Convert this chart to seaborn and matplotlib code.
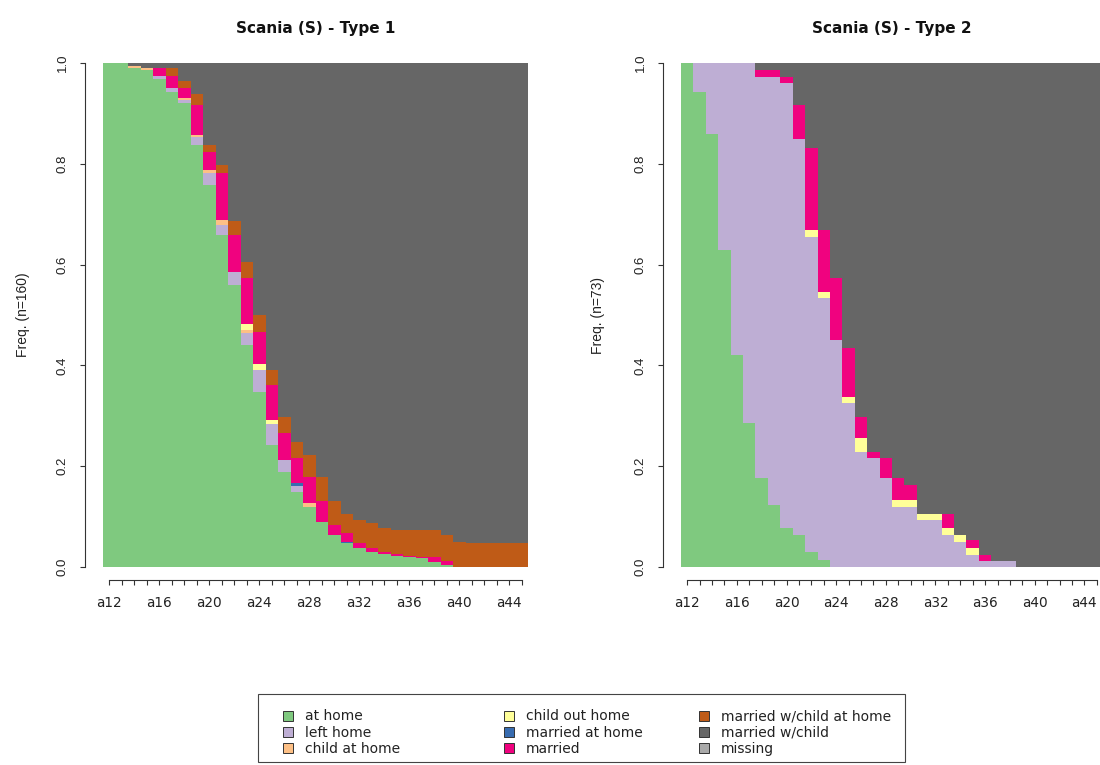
import numpy as np
import pandas as pd
import matplotlib
matplotlib.use("Agg")
import matplotlib.pyplot as plt
from matplotlib.patches import Patch, Rectangle
import seaborn as sns

# ---------------- data ----------------
ages = ["a12", "a13", "a14", "a15", "a16", "a17", "a18", "a19", "a20", "a21",
        "a22", "a23", "a24", "a25", "a26", "a27", "a28", "a29", "a30", "a31",
        "a32", "a33", "a34", "a35", "a36", "a37", "a38", "a39", "a40", "a41",
        "a42", "a43", "a44", "a45"]

states = ["at home", "left home", "child at home", "child out home",
          "married at home", "married", "married w/child at home",
          "married w/child", "missing"]
colors = ["#7FC97F", "#BEAED4", "#FDC086", "#FFFF99", "#386CB0",
          "#F0027F", "#BF5B17", "#666666", "#A9A9A9"]

# Type 1 (n=160) state distribution per age
t1_at_home = [1.0, 1.0, 0.99, 0.986, 0.968, 0.943, 0.92, 0.837, 0.758, 0.659,
              0.56, 0.44, 0.348, 0.242, 0.189, 0.149, 0.12, 0.09, 0.063, 0.047,
              0.037, 0.03, 0.025, 0.022, 0.02, 0.018, 0.01, 0.003, 0, 0,
              0, 0, 0, 0]
t1_left_home = [0, 0, 0, 0, 0.007, 0.007, 0.007, 0.017, 0.023, 0.02,
                0.026, 0.024, 0.043, 0.041, 0.023, 0.011, 0, 0, 0, 0,
                0, 0, 0, 0, 0, 0, 0, 0, 0, 0, 0, 0, 0, 0]
t1_child_home = [0, 0, 0.005, 0.005, 0, 0, 0.004, 0.003, 0.007, 0.009,
                 0, 0.006, 0, 0, 0, 0, 0.006, 0, 0, 0,
                 0, 0, 0, 0, 0, 0, 0, 0, 0, 0, 0, 0, 0, 0]
t1_child_out = [0, 0, 0, 0, 0, 0, 0, 0, 0, 0,
                0, 0.013, 0.011, 0.009, 0, 0, 0, 0, 0, 0,
                0, 0, 0, 0, 0, 0, 0, 0, 0, 0, 0, 0, 0, 0]
t1_married_home = [0, 0, 0, 0, 0, 0, 0, 0, 0, 0,
                   0, 0, 0, 0, 0, 0.006, 0, 0, 0, 0.003,
                   0, 0, 0, 0, 0, 0, 0, 0, 0, 0, 0, 0, 0, 0]
t1_married = [0, 0, 0, 0, 0.016, 0.025, 0.019, 0.06, 0.036, 0.093,
              0.073, 0.09, 0.065, 0.069, 0.053, 0.05, 0.053, 0.04, 0.02, 0.017,
              0.01, 0.007, 0.005, 0.003, 0.002, 0.002, 0.01, 0.009, 0, 0,
              0, 0, 0, 0]
t1_mwc_home = [0, 0, 0, 0, 0, 0.015, 0.014, 0.021, 0.013, 0.017,
               0.028, 0.033, 0.033, 0.03, 0.033, 0.033, 0.043, 0.049, 0.047, 0.039,
               0.046, 0.05, 0.047, 0.048, 0.051, 0.053, 0.053, 0.051, 0.05, 0.047,
               0.047, 0.047, 0.047, 0.047]
t1_mwc = [0, 0, 0.005, 0.009, 0.009, 0.01, 0.036, 0.062, 0.163, 0.202,
          0.313, 0.394, 0.5, 0.609, 0.702, 0.751, 0.778, 0.821, 0.87, 0.894,
          0.907, 0.913, 0.923, 0.927, 0.927, 0.927, 0.927, 0.937, 0.95, 0.953,
          0.953, 0.953, 0.953, 0.953]
t1_missing = [0] * 34

# Type 2 (n=73) state distribution per age
t2_at_home = [1.0, 0.943, 0.86, 0.629, 0.42, 0.285, 0.176, 0.123, 0.077, 0.063,
              0.03, 0.014, 0, 0, 0, 0, 0, 0, 0, 0,
              0, 0, 0, 0, 0, 0, 0, 0, 0, 0, 0, 0, 0, 0]
t2_left_home = [0, 0.057, 0.14, 0.371, 0.58, 0.715, 0.797, 0.85, 0.883, 0.787,
                0.625, 0.519, 0.45, 0.325, 0.229, 0.216, 0.176, 0.12, 0.12, 0.093,
                0.093, 0.063, 0.05, 0.024, 0.011, 0.011, 0.011, 0, 0, 0,
                0, 0, 0, 0]
t2_child_home = [0] * 34
t2_child_out = [0, 0, 0, 0, 0, 0, 0, 0, 0, 0,
                0.014, 0.013, 0, 0.013, 0.026, 0, 0, 0.013, 0.013, 0.013,
                0.013, 0.014, 0.013, 0.013, 0, 0, 0, 0, 0, 0, 0, 0, 0, 0]
t2_married_home = [0] * 34
t2_married = [0, 0, 0, 0, 0, 0, 0.013, 0.013, 0.013, 0.067,
              0.162, 0.123, 0.123, 0.096, 0.043, 0.013, 0.04, 0.043, 0.03, 0,
              0, 0.029, 0, 0.017, 0.013, 0, 0, 0, 0, 0, 0, 0, 0, 0]
t2_mwc_home = [0] * 34
t2_mwc = [0, 0, 0, 0, 0, 0, 0.014, 0.014, 0.027, 0.083,
          0.169, 0.331, 0.427, 0.566, 0.702, 0.771, 0.784, 0.824, 0.837, 0.894,
          0.894, 0.894, 0.937, 0.946, 0.976, 0.989, 0.989, 1.0, 1.0, 1.0,
          1.0, 1.0, 1.0, 1.0]
t2_missing = [0] * 34

titles = ["Scania (S) - Type 1", "Scania (S) - Type 2"]
ylabels = ["Freq. (n=160)", "Freq. (n=73)"]
yticks = [0, 0.2, 0.4, 0.6, 0.8, 1.0]
ytick_labels = ["0.0", "0.2", "0.4", "0.6", "0.8", "1.0"]

type1 = [t1_at_home, t1_left_home, t1_child_home, t1_child_out, t1_married_home,
         t1_married, t1_mwc_home, t1_mwc, t1_missing]
type2 = [t2_at_home, t2_left_home, t2_child_home, t2_child_out, t2_married_home,
         t2_married, t2_mwc_home, t2_mwc, t2_missing]


def long_frame(series):
    rows = []
    for st, vals in zip(states, series):
        for i, v in enumerate(vals):
            rows.append({"pos": i, "state": st, "freq": v})
    df = pd.DataFrame(rows)
    df["state"] = pd.Categorical(df["state"], categories=states, ordered=True)
    return df


# ---------------- plot ----------------
sns.set_theme(style="white")
plt.rcParams["font.family"] = ["DejaVu Sans"]
ROT_FONT = "Liberation Sans"

W, H = 1100, 765
PT = 72 / 100  # points per pixel
fig = plt.figure(figsize=(W / 100, H / 100), dpi=100)
ax1 = fig.add_axes([103 / W, 1 - 567 / H, 425 / W, 504 / H])
ax2 = fig.add_axes([681 / W, 1 - 567 / H, 422 / W, 504 / H])

axis_col = "#333333"
txt_col = "#222222"
label_x = [-0.172, -0.18]
for ax, data, title, ylab, lx in zip([ax1, ax2], [type1, type2], titles,
                                     ylabels, label_x):
    df = long_frame(data)
    sns.histplot(data=df, x="pos", weights="freq", hue="state",
                 hue_order=states[::-1], palette=colors[::-1],
                 multiple="stack", discrete=True, shrink=1,
                 linewidth=0, alpha=1, legend=False, ax=ax)
    ax.set_xlim(-0.5, len(ages) - 0.5)
    ax.set_ylim(0, 1)
    for s in ["top", "right"]:
        ax.spines[s].set_visible(False)
    ax.spines["left"].set_position(("outward", 18 * PT))
    ax.spines["bottom"].set_position(("outward", 13 * PT))
    ax.spines["left"].set_bounds(0, 1)
    ax.spines["bottom"].set_bounds(0, len(ages) - 1)
    for s in ["left", "bottom"]:
        ax.spines[s].set_color(axis_col)
        ax.spines[s].set_linewidth(0.8)
    ax.set_xticks(range(len(ages)))
    ax.set_xticklabels([a if i % 4 == 0 else "" for i, a in enumerate(ages)],
                       fontsize=9.8, color=txt_col)
    ax.set_yticks(yticks)
    ax.set_yticklabels(ytick_labels)
    ax.tick_params(axis="both", direction="out", length=5 * PT, width=0.8,
                   color=axis_col)
    ax.tick_params(axis="x", pad=8, bottom=True)
    ax.tick_params(axis="y", pad=8, left=True, labelsize=9.5,
                   labelcolor=txt_col)
    for lab in ax.get_yticklabels():
        lab.set_fontfamily(ROT_FONT)
        lab.set_rotation(90)
        lab.set_rotation_mode("anchor")
        lab.set_horizontalalignment("center")
        lab.set_verticalalignment("bottom")
    ax.set_xlabel("")
    ax.set_ylabel(ylab, fontsize=10, color=txt_col, family=ROT_FONT)
    ax.yaxis.set_label_coords(lx, 0.5)
    ax.set_title(title, fontsize=11, fontweight="bold", pad=21.5, color="#111111")

# legend: three columns inside one box
handles = [Patch(facecolor=c, edgecolor="#333333", linewidth=0.7) for c in colors]
col_x = [283, 504, 699]
for k in range(3):
    leg = fig.legend(handles[3 * k:3 * k + 3], states[3 * k:3 * k + 3],
                     loc="upper left", bbox_to_anchor=(col_x[k] / W, 1 - 709.5 / H),
                     frameon=False, fontsize=10, handlelength=0.7,
                     handleheight=0.7, handletextpad=0.85, labelspacing=0.16,
                     borderpad=0, borderaxespad=0, labelcolor=txt_col)
fig.patches.append(Rectangle((258 / W, 1 - 762 / H), (905 - 258) / W, (762 - 694) / H,
                             transform=fig.transFigure, fill=False,
                             edgecolor="#444444", linewidth=0.8))

fig.savefig("out.png", dpi=100)
